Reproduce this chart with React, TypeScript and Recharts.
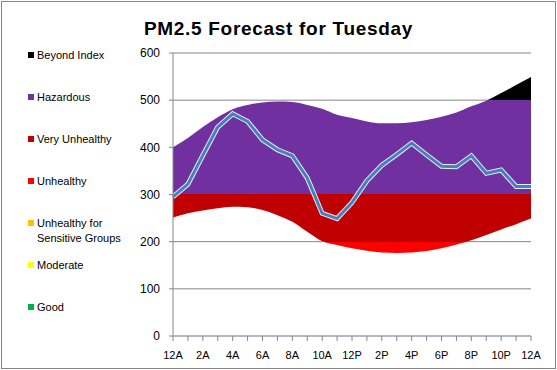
import { ComposedChart, Area, Line, XAxis, YAxis, CartesianGrid } from "recharts"

const hours = [
    "12A", "1A", "2A", "3A", "4A", "5A", "6A", "7A", "8A", "9A", "10A", "11A",
    "12P", "1P", "2P", "3P", "4P", "5P", "6P", "7P", "8P", "9P", "10P", "11P", "12A",
]

// forecast band, low and high edge
const lowerBound = [251, 260, 266, 271, 274, 273, 267, 256, 242, 221, 201, 193, 186, 181, 177, 176, 177, 180, 186, 194, 203, 214, 226, 237, 249]
const upperBound = [400, 420, 443, 464, 481, 490, 495, 497, 496, 490, 482, 469, 462, 455, 451, 451, 453, 458, 465, 474, 487, 499, 515, 532, 549]

// hourly forecast line
const forecast = [295, 322, 383, 443, 471, 455, 416, 395, 382, 335, 260, 249, 283, 329, 362, 385, 409, 384, 360, 359, 382, 345, 352, 317, 317]

const yTicks = [0, 100, 200, 300, 400, 500, 600]

const categories = [
    { name: "Beyond Index", color: "#000000", from: 500, to: 600 },
    { name: "Hazardous", color: "#7030A0", from: 300, to: 500 },
    { name: "Very Unhealthy", color: "#C00000", from: 200, to: 300 },
    { name: "Unhealthy", color: "#FF0000", from: 150, to: 200 },
    { name: "Unhealthy for\nSensitive Groups", color: "#FFC000", from: 100, to: 150 },
    { name: "Moderate", color: "#FFFF00", from: 50, to: 100 },
    { name: "Good", color: "#00B050", from: 0, to: 50 },
]

const data = hours.map((label, i) => ({
    i,
    label,
    range: [lowerBound[i], upperBound[i]],
    pm: forecast[i],
}))

const W = 557
const H = 370
const plotTop = 53
const plotBottom = 336
const yMax = 600

export default function App() {
    const font = "'Liberation Sans', Arial, sans-serif"

    return (
        <div style={{ position: "fixed", left: 0, top: 0, width: W, height: H, background: "#fff", fontFamily: font }}>
            <div style={{ position: "absolute", left: 1, top: 1, width: W - 4, height: H - 4, border: "1px solid #868686" }} />
            <div style={{ position: "absolute", left: 0, top: 18, width: 557, textAlign: "center", fontSize: 19, letterSpacing: 0.7, fontWeight: "bold", lineHeight: "22px" }}>
                PM2.5 Forecast for Tuesday
            </div>

            {categories.map((c, idx) => (
                <div
                    key={c.name}
                    style={{ position: "absolute", left: 28, top: 48 + idx * 42, fontSize: 11, lineHeight: "15px", color: "#000" }}
                >
                    <span style={{ position: "absolute", left: 0, top: 4, width: 6, height: 6, background: c.color }} />
                    <div style={{ marginLeft: 9, whiteSpace: "pre" }}>{c.name}</div>
                </div>
            ))}

            <ComposedChart
                width={W}
                height={H}
                data={data}
                margin={{ top: plotTop, right: 26, bottom: 4, left: 0 }}
                style={{ position: "absolute", left: 0, top: 0 }}
            >
                <defs>
                    <linearGradient id="aqiBands" gradientUnits="userSpaceOnUse" x1="0" y1={plotTop} x2="0" y2={plotBottom}>
                        {categories.flatMap((c) => [
                            <stop key={c.name + "a"} offset={(yMax - c.to) / yMax} stopColor={c.color} />,
                            <stop key={c.name + "b"} offset={(yMax - c.from) / yMax} stopColor={c.color} />,
                        ])}
                    </linearGradient>
                </defs>
                <CartesianGrid vertical={false} stroke="#868686" />
                <XAxis
                    type="number"
                    dataKey="i"
                    domain={[0, 24]}
                    ticks={hours.map((_, i) => i)}
                    tickFormatter={(v) => (v % 2 === 0 ? hours[v] : "")}
                    interval={0}
                    height={30}
                    tickSize={5}
                    tickMargin={10}
                    axisLine={{ stroke: "#A3ABD3" }}
                    tickLine={{ stroke: "#868686" }}
                    tick={{ fill: "#000", fontSize: 11, fontFamily: font }}
                />
                <YAxis
                    domain={[0, 600]}
                    ticks={yTicks}
                    width={173}
                    tickSize={4}
                    tickMargin={9}
                    axisLine={{ stroke: "#868686" }}
                    tickLine={{ stroke: "#868686" }}
                    tick={{ fill: "#000", fontSize: 12, fontFamily: font }}
                />
                <Area
                    type="monotone"
                    dataKey="range"
                    stroke="none"
                    fill="url(#aqiBands)"
                    fillOpacity={1}
                    isAnimationActive={false}
                />
                <Line type="linear" dataKey="pm" stroke="#E4ECF6" strokeWidth={5} dot={false} isAnimationActive={false} />
                <Line type="linear" dataKey="pm" stroke="#4A7EBB" strokeWidth={3} dot={false} isAnimationActive={false} />
            </ComposedChart>
        </div>
    )
}
